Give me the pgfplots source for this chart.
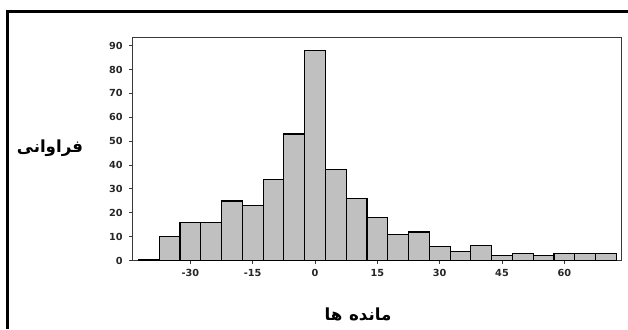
\documentclass[border=0pt]{standalone}
\usepackage{fontspec}
\setmainfont{DejaVu Sans}
\newfontfamily\arabicfont[Script=Arabic]{DejaVu Sans}
\TeXXeTstate=1
\usepackage{pgfplots}
\pgfplotsset{compat=1.18}
\definecolor{barfill}{HTML}{C0C0C0}
\definecolor{axisgray}{HTML}{3A3A3A}
\begin{document}
\begin{tikzpicture}[x=0.75pt,y=0.75pt]
\useasboundingbox (0,0) rectangle (628,329);
% partial frame (top and left edges)
\draw[line width=2.25pt] (7,0) -- (7,317.5) -- (628,317.5);
\begin{axis}[
  at={(99.225pt,51.225pt)}, anchor=south west,
  scale only axis, width=367.05pt, height=167.25pt,
  xmin=-43.97, xmax=73.8, ymin=0, ymax=93.3,
  xtick={-30,-15,...,60}, ytick={0,10,...,90},
  xtick pos=left, ytick pos=left,
  tick align=outside, major tick length=2.25pt,
  axis line style={axisgray, line width=0.75pt},
  tick style={axisgray, line width=0.75pt},
  tick label style={font=\fontsize{7.3}{8}\selectfont\bfseries, text=black!85},
  /pgf/number format/assume math mode=true,
  yticklabel style={xshift=-1.5pt},
  xticklabel style={yshift=-1pt},
]
\addplot[ybar interval, fill=barfill, draw=black, line width=0.85pt] coordinates {
  (-42.5,0.6) (-37.5,10) (-32.5,16) (-27.5,16) (-22.5,25) (-17.5,23)
  (-12.5,34) (-7.5,53) (-2.5,88) (2.5,38) (7.5,26) (12.5,18)
  (17.5,11) (22.5,12) (27.5,6) (32.5,4) (37.5,6.5) (42.5,2)
  (47.5,3) (52.5,2) (57.5,3) (62.5,3) (67.5,3) (72.5,3)
};
\end{axis}
\node[font=\arabicfont\fontsize{12.5}{14}\selectfont\bfseries] at (50,181) {\beginR فراوانی\endR};
\node[font=\arabicfont\fontsize{12.5}{14}\selectfont\bfseries] at (358,15) {\beginR مانده\hspace{5pt}ها\endR};
\end{tikzpicture}
\end{document}
